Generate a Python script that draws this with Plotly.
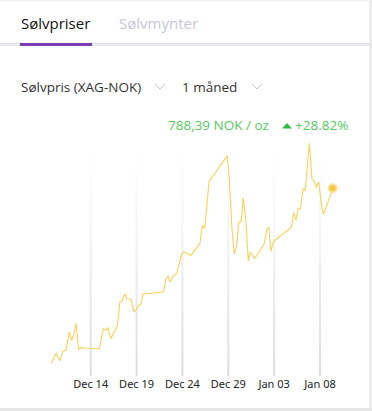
import plotly.graph_objects as go

# ---- data ----
dates = [
    "2025-12-09 17:00", "2025-12-10 05:10", "2025-12-10 15:40", "2025-12-10 22:40",
    "2025-12-11 07:20", "2025-12-11 16:00", "2025-12-11 22:20", "2025-12-12 04:20",
    "2025-12-12 09:30", "2025-12-12 16:40", "2025-12-12 21:50", "2025-12-14 22:30",
    "2025-12-15 09:00", "2025-12-15 16:00", "2025-12-15 21:20", "2025-12-16 04:20",
    "2025-12-16 21:40", "2025-12-17 04:40", "2025-12-17 09:55", "2025-12-17 17:00",
    "2025-12-17 22:10", "2025-12-18 08:40", "2025-12-18 17:20", "2025-12-18 22:30",
    "2025-12-19 05:40", "2025-12-19 10:50", "2025-12-19 16:50", "2025-12-19 21:20",
    "2025-12-21 22:00", "2025-12-22 05:00", "2025-12-22 10:20", "2025-12-22 15:30",
    "2025-12-23 00:10", "2025-12-23 09:00", "2025-12-23 22:55", "2025-12-24 04:10",
    "2025-12-24 21:40", "2025-12-25 22:00", "2025-12-26 04:00", "2025-12-26 10:20",
    "2025-12-26 21:35", "2025-12-28 21:30", "2025-12-29 02:40", "2025-12-29 09:50",
    "2025-12-29 15:50", "2025-12-29 22:05", "2025-12-30 03:20", "2025-12-30 09:20",
    "2025-12-30 15:25", "2025-12-30 22:25", "2025-12-31 04:25", "2025-12-31 08:55",
    "2025-12-31 21:10", "2026-01-01 21:30", "2026-01-02 04:35", "2026-01-02 09:50",
    "2026-01-02 15:50", "2026-01-02 21:55", "2026-01-03 03:05", "2026-01-04 21:00",
    "2026-01-05 03:20", "2026-01-05 09:20", "2026-01-05 14:30", "2026-01-05 20:30",
    "2026-01-06 03:35", "2026-01-06 09:35", "2026-01-06 20:05", "2026-01-07 03:05",
    "2026-01-07 08:25", "2026-01-07 14:25", "2026-01-07 20:40", "2026-01-08 05:20",
    "2026-01-08 09:45", "2026-01-09 09:20",
]
prices = [
    612.0, 622.1, 614.6, 623.7, 625.4, 643.9, 634.8, 642.2,
    652.3, 625.4, 627.7, 626.4, 646.9, 645.6, 647.9, 636.8,
    649.6, 674.5, 674.5, 681.9, 677.1, 676.8, 664.0, 665.7,
    670.8, 671.1, 682.2, 681.9, 683.9, 696.7, 700.3, 693.9,
    700.0, 702.7, 722.9, 724.2, 720.5, 733.3, 751.1, 747.7,
    795.1, 821.3, 796.8, 746.4, 721.9, 731.2, 754.4, 754.4,
    778.9, 753.1, 715.1, 724.2, 717.8, 732.0, 746.4, 749.1,
    724.9, 734.3, 736.3, 749.1, 763.8, 756.4, 767.8, 767.8,
    788.0, 786.7, 833.8, 797.8, 795.8, 789.4, 794.8, 767.5,
    762.5, 788.39,
]
tick_dates = ["2025-12-14", "2025-12-19", "2025-12-24", "2025-12-29", "2026-01-03", "2026-01-08"]
tab_labels = ["Sølvpriser", "Sølvmynter"]
selector_labels = ["Sølvpris (XAG-NOK)", "1 måned"]
price_label = "788,39 NOK / oz"
change_label = "+28.82%"

# ---- layout geometry ----
W, H = 372, 411
ML, MR, MT, MB = 40, 30, 140, 35
PW, PH = W - ML - MR, H - MT - MB


def px(x):
    return (x - ML) / PW


def py(y):
    return (H - MB - y) / PH


LINE = "#f8d25a"

fig = go.Figure()
fig.add_trace(go.Scatter(
    x=dates, y=prices, mode="lines",
    line=dict(color=LINE, width=1.1),
    hoverinfo="skip", showlegend=False,
))
fig.add_trace(go.Scatter(
    x=[dates[-1]], y=[prices[-1]], mode="markers",
    marker=dict(size=8, color="#f6c743", line=dict(color="#fbe1a0", width=2)),
    hoverinfo="skip", showlegend=False,
))

shapes = []
# fading vertical grid lines
N = 24
top = py(155)
for d in tick_dates:
    for i in range(N):
        y0 = top * i / N
        y1 = top * (i + 1) / N
        op = (1 - (i + 0.5) / N) ** 1.1
        shapes.append(dict(type="line", xref="x", yref="paper", x0=d, x1=d, y0=y0, y1=y1,
                           line=dict(color="rgba(220,220,220,%.3f)" % op, width=2), layer="below"))

# tab bar lines
shapes.append(dict(type="line", xref="paper", yref="paper", x0=px(0), x1=px(372), y0=py(44.5), y1=py(44.5),
                   line=dict(color="#e6e6ee", width=3)))
shapes.append(dict(type="line", xref="paper", yref="paper", x0=px(20), x1=px(92), y0=py(44.5), y1=py(44.5),
                   line=dict(color="#7a3db5", width=3)))
# card borders
shapes.append(dict(type="line", xref="paper", yref="paper", x0=px(370.5), x1=px(370.5), y0=py(0), y1=py(411),
                   line=dict(color="#e6e6e6", width=2)))
shapes.append(dict(type="line", xref="paper", yref="paper", x0=px(0), x1=px(372), y0=py(409.5), y1=py(409.5),
                   line=dict(color="#e6e6e6", width=3)))
shapes.append(dict(type="line", xref="paper", yref="paper", x0=px(0), x1=px(372), y0=py(0.5), y1=py(0.5),
                   line=dict(color="#f2f2f2", width=1)))
# dropdown chevrons
for cx in (160, 257):
    shapes.append(dict(type="path", xref="paper", yref="paper",
                       path="M %f %f L %f %f L %f %f" % (px(cx - 5), py(84), px(cx), py(89), px(cx + 5), py(84)),
                       line=dict(color="#c4c4cc", width=1)))
# up triangle before the change figure
shapes.append(dict(type="path", xref="paper", yref="paper",
                   path="M %f %f L %f %f L %f %f Z" % (px(282), py(128.5), px(287), py(123), px(292), py(128.5)),
                   fillcolor="#2fb84a", line=dict(width=0)))

font_family = "Open Sans, Noto Sans, sans-serif"
annotations = [
    dict(text=tab_labels[0], x=px(19), y=py(23), xanchor="left", yanchor="middle",
         font=dict(size=15, color="#111111", family=font_family)),
    dict(text=tab_labels[1], x=px(117), y=py(23), xanchor="left", yanchor="middle",
         font=dict(size=15, color="#c6c6d6", family=font_family)),
    dict(text=selector_labels[0], x=px(19), y=py(87), xanchor="left", yanchor="middle",
         font=dict(size=13.5, color="#333333", family=font_family)),
    dict(text=selector_labels[1], x=px(180), y=py(87), xanchor="left", yanchor="middle",
         font=dict(size=13.5, color="#333333", family=font_family)),
    dict(text=price_label, x=px(271), y=py(125), xanchor="right", yanchor="middle",
         font=dict(size=13.5, color="#55c95e", family=font_family)),
    dict(text=change_label, x=px(350), y=py(125), xanchor="right", yanchor="middle",
         font=dict(size=13.5, color="#55c95e", family=font_family)),
]
for a in annotations:
    a.update(xref="paper", yref="paper", showarrow=False)

x_start = "2025-12-08 11:16"
x_end = "2026-01-10 09:35"
fig.update_layout(
    width=W, height=H,
    margin=dict(l=ML, r=MR, t=MT, b=MB),
    paper_bgcolor="white", plot_bgcolor="white",
    shapes=shapes, annotations=annotations,
    xaxis=dict(type="date", range=[x_start, x_end], tickvals=tick_dates, tickformat="%b %d",
               showgrid=False, zeroline=False, showline=False, ticks="",
               tickfont=dict(size=11, color="#222222", family="Noto Sans, sans-serif"),
               fixedrange=True),
    yaxis=dict(range=[599.2, 837.1], visible=False, fixedrange=True),
    hovermode=False,
)
fig.write_html("out.html", config={"displayModeBar": False},
               post_script="document.body.style.margin='0';document.body.style.padding='0';")
